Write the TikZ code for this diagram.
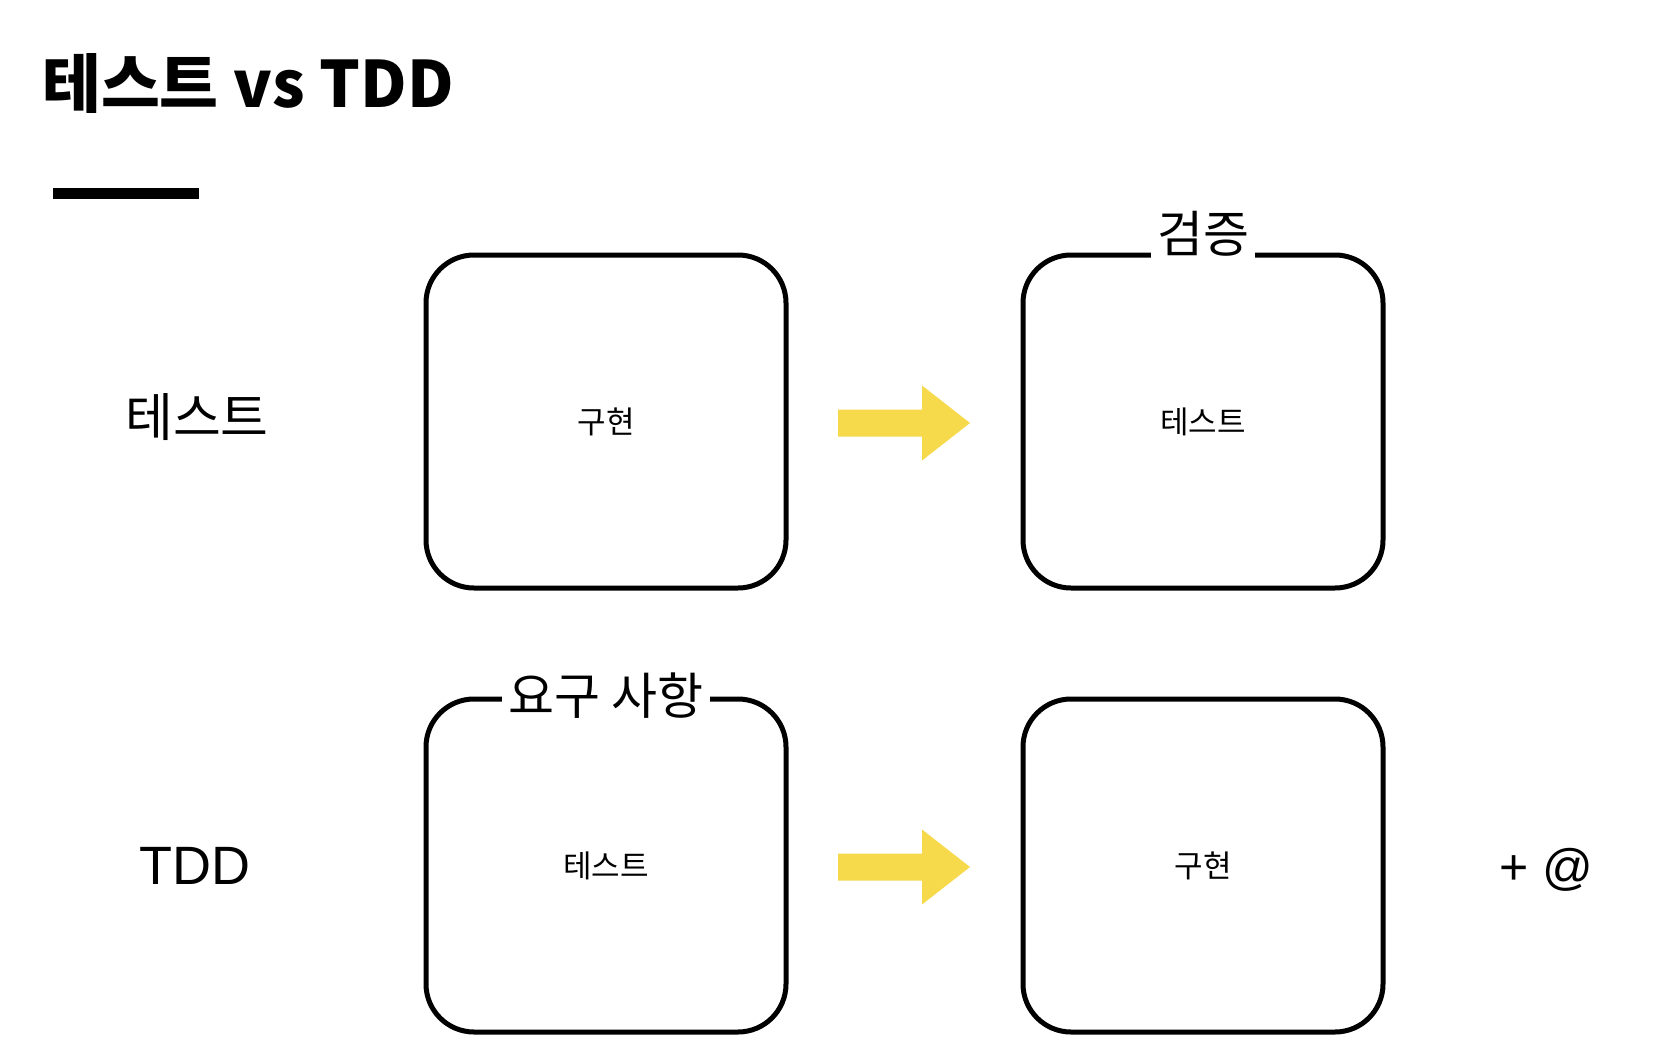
\documentclass[tikz,border=0pt]{standalone}
\usepackage{fontspec}
\setmainfont{Liberation Sans}
\newfontfamily\krfont{Noto Sans CJK KR}
\newfontfamily\lsfont{Liberation Sans}
\definecolor{arrowyellow}{HTML}{F7D94C}
\begin{document}
\begin{tikzpicture}[x=1pt,y=-1pt,
  card/.style={draw=black,line width=5pt,rounded corners=48pt,minimum width=360pt,minimum height=333pt,inner sep=0pt,
    font=\krfont\fontsize{31}{36}\selectfont},
  brk/.style={fill=white,inner xsep=6pt,inner ysep=0pt,text height=41pt,text depth=8pt,font=\krfont\fontsize{50}{60}\selectfont},
  rowlabel/.style={inner sep=0pt},
  yarrow/.style={fill=arrowyellow,draw=none}]
\useasboundingbox (0,0) rectangle (1656,1062);
\fill[white] (0,0) rectangle (1656,1062);
% title
\node[anchor=west,inner sep=0pt,font=\krfont\bfseries\fontsize{64}{72}\selectfont] (title) at (42,84) {테스트 vs TDD};
\fill[black] (53,188) rectangle (199,199);
\coordinate (bar) at (126,193);
% row labels
\node[rowlabel,font=\krfont\fontsize{52}{60}\selectfont] (lt) at (197,417) {테스트};
\node[rowlabel,font=\lsfont\fontsize{54}{60}\selectfont] (ltdd) at (195,866) {TDD};
% boxes
\node[card] (b1) at (606,421.5) {구현};
\node[card] (b2) at (1203,421.5) {테스트};
\node[card] (b3) at (606,865.5) {테스트};
\node[card] (b4) at (1203,865.5) {구현};
% labels breaking the top borders
\node[brk] (verify) at (b2.north) [yshift=16.7pt] {검증};
\node[brk] (req) at (b3.north) [yshift=-1.3pt] {요구 사항};
% arrows
\coordinate (a1) at (838,422);
\coordinate (a2) at (838,866);
\foreach \c in {a1,a2}{
  \fill[yarrow] ([yshift=12.5pt]\c) -- ++(84,0) -- ++(0,-24) -- ++(48,37.5) -- ++(-48,37.5) -- ++(0,-24) -- ++(-84,0) -- cycle;
}
% plus at
\node[inner sep=0pt,font=\lsfont\fontsize{50}{60}\selectfont] (plusat) at (1546,870) {+ @};
\end{tikzpicture}
\end{document}
